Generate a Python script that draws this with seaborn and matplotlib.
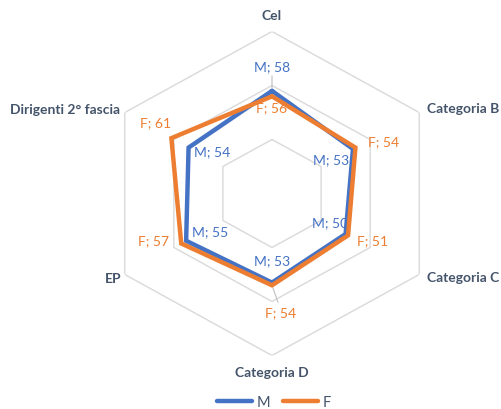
import numpy as np
import pandas as pd
import matplotlib
matplotlib.use("Agg")
import matplotlib.pyplot as plt
import seaborn as sns
from matplotlib.lines import Line2D

categories = ["Cel", "Categoria B", "Categoria C", "Categoria D", "EP", "Dirigenti 2° fascia"]
series_names = ["M", "F"]
m_values = [58, 53, 50, 53, 55, 54]
f_values = [56, 54, 51, 54, 57, 61]
ring_ticks = [40, 60, 80]
r_min, r_max = 20, 80

colors = {"M": "#4472C4", "F": "#ED7D31"}
text_col = "#44546A"
grid_col = "#D9D9D9"

sns.set_theme(style="white")
plt.rcParams["font.family"] = ["Lato", "DejaVu Sans"]

n = len(categories)
theta = np.arange(n) * 2 * np.pi / n

rows = []
for name, vals in zip(series_names, [m_values, f_values]):
    for k, i in enumerate(list(range(n)) + [0]):
        th = theta[i] if k < n else theta[i] + 2 * np.pi
        rows.append({"series": name, "theta": th, "value": vals[i]})
df = pd.DataFrame(rows)

W, H = 502, 410
fig = plt.figure(figsize=(W / 100, H / 100), dpi=100)
cx, cy = 272, 194.5
rx, ry = 170, 162
ax = fig.add_axes([(cx - rx) / W, (H - cy - ry) / H, 2 * rx / W, 2 * ry / H], projection="polar")
ax.set_aspect("auto")
ax.set_theta_offset(np.pi / 2)
ax.set_theta_direction(-1)
ax.set_ylim(r_min, r_max)
ax.grid(False)
ax.spines["polar"].set_visible(False)
ax.set_xticks([])
ax.set_yticks([])
ax.set_facecolor("white")

# hexagonal grid rings
th_closed = np.append(theta, theta[0] + 2 * np.pi)
for rt in ring_ticks:
    ax.plot(th_closed, [rt] * (n + 1), color=grid_col, lw=1.0, zorder=1)

sns.lineplot(data=df, x="theta", y="value", hue="series", palette=colors,
             sort=False, estimator=None, units="series", lw=3.2, ax=ax, legend=False, zorder=3)
for line in ax.lines[-2:]:
    line.set_solid_joinstyle("miter")

# data labels
m_off = [(0, 25), (-22, -10), (-16, 12), (0, 22), (24, 10), (24, -4)]
f_off = [(0, -11), (28, 6), (24, -5), (9, -27), (-28, 3), (-16, 16)]
for name, vals, offs in [("M", m_values, m_off), ("F", f_values, f_off)]:
    for i in range(n):
        ax.annotate(f"{name}; {vals[i]}", xy=(theta[i], vals[i]), xytext=offs[i],
                    textcoords="offset pixels", ha="center", va="center",
                    color=colors[name], fontsize=10, zorder=2)

# leader lines
ax.annotate("", xy=(theta[0], m_values[0]), xytext=(0, 15), textcoords="offset pixels",
            arrowprops=dict(arrowstyle="-", color="#BFBFBF", lw=0.8, shrinkA=0, shrinkB=2), zorder=1)
ax.annotate("", xy=(theta[3], f_values[3]), xytext=(6, -17), textcoords="offset pixels",
            arrowprops=dict(arrowstyle="-", color="#BFBFBF", lw=0.8, shrinkA=0, shrinkB=2), zorder=1)

# category labels
cat_off = [((0, 17), "center"), ((8, 4.5), "left"), ((8, -2.5), "left"),
           ((0, -16.5), "center"), ((-3, -3.5), "right"), ((-5, 3.5), "right")]
for i, cat in enumerate(categories):
    off, ha = cat_off[i]
    ax.annotate(cat, xy=(theta[i], r_max), xytext=off, textcoords="offset pixels",
                ha=ha, va="center", color=text_col, fontsize=10, fontweight="bold",
                annotation_clip=False)

handles = [Line2D([0], [0], color=colors[s], lw=3.2) for s in series_names]
fig.legend(handles, series_names, loc="center", bbox_to_anchor=(274 / W, 1 - 403 / H),
           ncol=2, frameon=False, handlelength=2.4, handletextpad=0.3, columnspacing=0.9,
           fontsize=10.5, labelcolor=text_col)

fig.savefig("out.png", dpi=100, facecolor="white")
